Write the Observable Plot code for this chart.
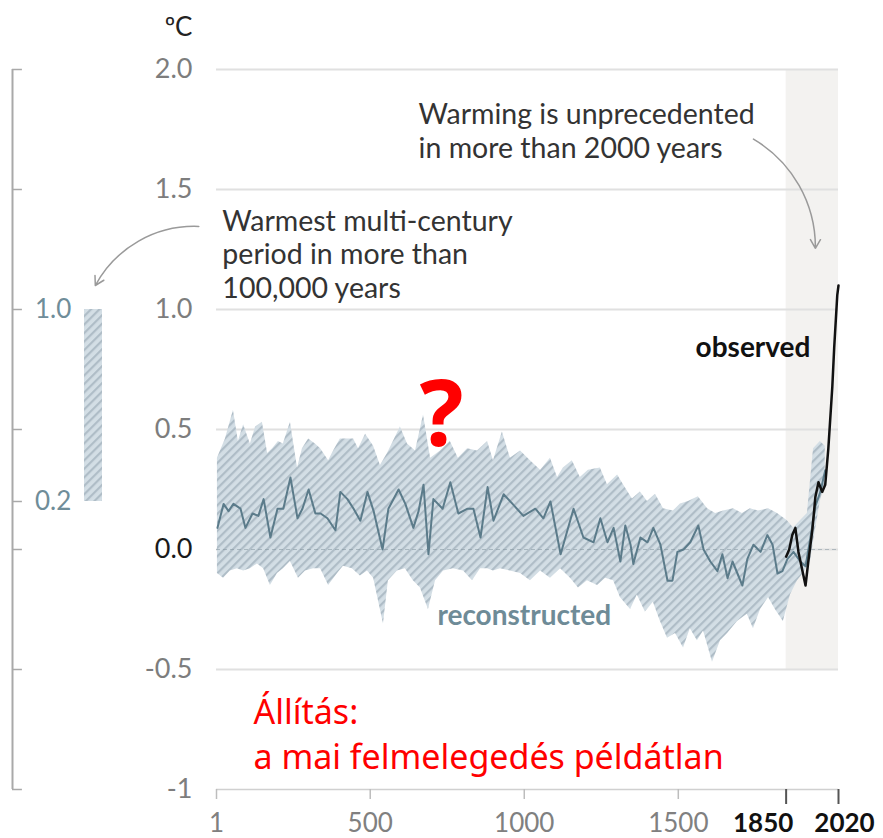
<!DOCTYPE html>
<html>
<head>
<meta charset="utf-8">
<script src="https://cdn.jsdelivr.net/npm/d3@7"></script>
<script src="https://cdn.jsdelivr.net/npm/@observablehq/plot@0.6"></script>
<style>
  body { margin: 0; background: #fff; }
  #wrap { position: relative; width: 883px; height: 838px; overflow: hidden; }
  #wrap svg { position: absolute; left: 0; top: 0; max-width: none; }
</style>
</head>
<body>
<div id="wrap"></div>
<script>
// ---------- data ----------
// reconstructed (median) global surface temperature, °C relative to 1850–1900
const reconYears = [4,24,40,56,79,95,118,137,154,176,199,218,241,264,280,300,322,339,361,387,403,426,446,468,491,511,540,559,592,614,640,657,673,689,705,735,760,786,816,835,858,881,900,933,962,997,1036,1062,1085,1118,1160,1192,1225,1247,1270,1290,1312,1328,1345,1354,1377,1400,1419,1442,1465,1481,1497,1517,1539,1565,1582,1604,1627,1643,1660,1676,1692,1708,1724,1744,1767,1789,1806,1822,1838,1854,1874,1896,1913,1929,1945,1961,1977];
const reconTemp = [0.09,0.19,0.16,0.19,0.17,0.09,0.15,0.14,0.21,0.05,0.17,0.17,0.30,0.13,0.17,0.25,0.15,0.15,0.13,0.08,0.24,0.21,0.17,0.12,0.24,0.16,0.00,0.17,0.25,0.19,0.09,0.16,0.27,-0.02,0.21,0.17,0.28,0.15,0.17,0.17,0.05,0.26,0.12,0.23,0.19,0.14,0.17,0.13,0.20,-0.02,0.17,0.05,0.03,0.13,0.03,0.09,-0.05,0.10,0.02,-0.06,0.05,0.03,0.09,0.02,-0.13,-0.13,-0.01,0.00,0.03,0.10,0.00,-0.05,-0.09,-0.02,-0.12,-0.05,-0.10,-0.15,-0.04,0.02,-0.01,0.06,0.02,-0.10,-0.09,-0.04,-0.01,-0.05,-0.07,0.05,0.18,0.24,0.33];

// very likely range of the reconstruction: upper edge
const upperYears = [4,30,56,72,89,111,128,150,167,183,202,218,241,264,280,300,322,339,365,381,403,426,446,462,485,511,533,556,598,621,647,673,696,728,760,786,816,848,881,900,929,955,988,1020,1053,1085,1108,1127,1156,1182,1208,1247,1270,1303,1322,1351,1377,1400,1426,1452,1484,1507,1533,1565,1595,1621,1647,1679,1708,1734,1760,1793,1822,1854,1874,1896,1919,1939,1961,1977];
const upperTemp = [0.38,0.46,0.58,0.45,0.52,0.44,0.51,0.53,0.40,0.42,0.45,0.44,0.53,0.34,0.42,0.46,0.44,0.42,0.37,0.41,0.46,0.46,0.46,0.42,0.48,0.43,0.35,0.40,0.51,0.44,0.41,0.56,0.38,0.41,0.45,0.38,0.42,0.41,0.45,0.37,0.49,0.38,0.41,0.37,0.33,0.38,0.30,0.34,0.37,0.30,0.33,0.34,0.27,0.31,0.27,0.21,0.24,0.20,0.23,0.17,0.16,0.19,0.20,0.22,0.17,0.15,0.16,0.17,0.15,0.17,0.16,0.17,0.15,0.12,0.09,0.12,0.15,0.42,0.45,0.43];

// lower edge
const lowerYears = [4,24,46,69,89,111,134,154,176,199,218,241,267,290,316,339,365,394,413,442,468,491,511,543,559,588,614,640,663,689,712,738,770,803,832,858,881,900,923,955,988,1020,1053,1085,1118,1150,1176,1205,1238,1264,1290,1312,1345,1367,1393,1419,1442,1465,1491,1517,1539,1562,1582,1611,1637,1660,1692,1724,1744,1767,1793,1815,1841,1864,1887,1906,1929,1945,1961,1977];
const lowerTemp = [-0.10,-0.12,-0.09,-0.08,-0.09,-0.08,-0.06,-0.08,-0.15,-0.10,-0.08,-0.05,-0.12,-0.09,-0.08,-0.08,-0.15,-0.10,-0.07,-0.08,-0.11,-0.09,-0.12,-0.31,-0.13,-0.09,-0.08,-0.13,-0.16,-0.25,-0.13,-0.09,-0.08,-0.09,-0.13,-0.08,-0.08,-0.09,-0.08,-0.09,-0.10,-0.13,-0.09,-0.12,-0.08,-0.12,-0.16,-0.13,-0.15,-0.12,-0.13,-0.20,-0.25,-0.19,-0.26,-0.22,-0.30,-0.37,-0.35,-0.41,-0.33,-0.38,-0.34,-0.47,-0.38,-0.35,-0.30,-0.27,-0.33,-0.25,-0.20,-0.25,-0.30,-0.19,-0.13,-0.10,-0.05,0.08,0.20,0.28];

// observed
const obsYears = [1850,1860,1870,1880,1890,1903,1913,1922,1935,1945,1955,1967,1977,1987,2000,2006,2016,2020];
const obsTemp = [-0.03,0.00,0.06,0.09,-0.01,-0.09,-0.15,-0.05,0.08,0.22,0.28,0.24,0.27,0.42,0.68,0.84,1.06,1.10];

// axes
const yTicks = [2, 1.5, 1, 0.5, 0, -0.5, -1];
const yTickLabels = ["2.0", "1.5", "1.0", "0.5", "0.0", "-0.5", "-1"];
const gridLevels = [2, 1.5, 1, 0.5, -0.5];
const xTicks = [1, 500, 1000, 1500, 1850, 2020];
const xTickLabels = ["1", "500", "1000", "1500", "1850", "2020"];
const xTicksBold = [1850, 2020];
const shadedPeriod = [1850, 2020];

// left panel
const leftTicks = [2, 1.5, 1, 0.5, 0.2, 0, -0.5, -1];
const leftLabels = [1.0, 0.2];
const warmestRange = [0.2, 1.0];

// texts
const unit = "ºC";
const noteWarming = "Warming is unprecedented\nin more than 2000 years";
const noteWarmest = "Warmest multi-century\nperiod in more than\n100,000 years";
const labelObserved = "observed";
const labelRecon = "reconstructed";
const claim = "Állítás:\na mai felmelegedés példátlan";
const question = "?";

// ---------- build ----------
const W = 883, H = 838, MT = 69, MB = 49;
const reconRows = reconYears.map((year, i) => ({year, t: reconTemp[i]}));
const bandRows = lowerYears.map((ly, i) => ({ly, lt: lowerTemp[i], uy: upperYears[i], ut: upperTemp[i]}));
const obsRows = obsYears.map((year, i) => ({year, t: obsTemp[i]}));
const yRows = yTicks.map((v, i) => ({v, label: yTickLabels[i]}));
const xRows = xTicks.map((v, i) => ({v, label: xTickLabels[i], bold: xTicksBold.includes(v)}));
const yMin = d3.min(yTicks), yMax = d3.max(yTicks);
const xMin = d3.min(xTicks), xMax = d3.max(xTicks);
const annotFont = 28.5;

const main = Plot.plot({
  width: W, height: H,
  marginLeft: 216, marginRight: 45, marginTop: MT, marginBottom: MB,
  x: {domain: [xMin, xMax], axis: null},
  y: {domain: [yMin, yMax], axis: null},
  style: {fontFamily: "Lato, sans-serif", background: "white", overflow: "visible"},
  marks: [
    Plot.rect([shadedPeriod], {x1: d => d[0], x2: d => d[1], y1: d3.min(gridLevels), y2: yMax, fill: "#f3f2f0"}),
    Plot.ruleY(gridLevels.concat([0]), {stroke: "#e0e0e0", strokeWidth: 2}),
    Plot.area(bandRows, {x1: "ly", y1: "lt", x2: "uy", y2: "ut", fill: "url(#hatchMain)"}),
    Plot.ruleY([0], {stroke: "#7e8f99", strokeOpacity: 0.5, strokeWidth: 1.2, strokeDasharray: "4,3"}),
    Plot.line(reconRows, {x: "year", y: "t", stroke: "#5b7b8a", strokeWidth: 2}),
    Plot.line(obsRows, {x: "year", y: "t", stroke: "#111", strokeWidth: 2.5}),
    // x axis
    Plot.ruleY([yMin], {stroke: "#d0d0d0", strokeWidth: 1.5}),
    Plot.ruleX(xRows.filter(d => !d.bold), {x: "v", y1: yMin, y2: yMin, insetTop: 0, insetBottom: -10, stroke: "#bdbdbd", strokeWidth: 1.5}),
    Plot.ruleX(xRows.filter(d => d.bold), {x: "v", y1: yMin, y2: yMin, insetTop: 0, insetBottom: -15, stroke: "#555", strokeWidth: 2}),
    Plot.text(xRows.filter(d => !d.bold), {x: "v", y: yMin, text: "label", dy: 34, fontSize: 26, fill: "#808080"}),
    Plot.text(xRows.filter(d => d.v === 1850), {x: "v", y: yMin, text: "label", dy: 34, dx: -23, fontSize: 26, fontWeight: "bold", fill: "#111"}),
    Plot.text(xRows.filter(d => d.v === 2020), {x: "v", y: yMin, text: "label", dy: 34, dx: 6, fontSize: 26, fontWeight: "bold", fill: "#111"}),
    // y axis labels
    Plot.text(yRows.filter(d => d.v !== 0), {x: xMin, y: "v", text: "label", textAnchor: "end", dx: -24, fontSize: 27, fill: "#7d7d7d"}),
    Plot.text(yRows.filter(d => d.v === 0), {x: xMin, y: "v", text: "label", textAnchor: "end", dx: -24, fontSize: 27, fill: "#1a1a1a"}),
    Plot.text([unit], {frameAnchor: "top-left", text: d => d, textAnchor: "end", lineAnchor: "middle", dx: -24, dy: -42, fontSize: 26, fill: "#222"}),
    // annotations
    Plot.text([noteWarming], {x: 657, y: 1.746, text: d => d, textAnchor: "start", lineAnchor: "middle", lineHeight: 34 / annotFont, fontSize: annotFont, fill: "#333"}),
    Plot.arrow([{}], {x1: 1744, y1: 1.71, x2: 1945, y2: 1.255, bend: 30, stroke: "#9a9a9a", strokeWidth: 1.5, headLength: 10}),
    Plot.text([noteWarmest], {x: 20, y: 1.233, text: d => d, textAnchor: "start", lineAnchor: "middle", lineHeight: 33.5 / annotFont, fontSize: annotFont, fill: "#333"}),
    Plot.text([labelObserved], {x: 1929, y: 0.838, text: d => d, textAnchor: "end", fontSize: 28, fontWeight: "bold", fill: "#111"}),
    Plot.text([labelRecon], {x: 718, y: -0.279, text: d => d, textAnchor: "start", fontSize: 28, fontWeight: "bold", fill: "#6e8b97"}),
    Plot.text([question], {x: 731, y: 0.554, text: d => d, fontSize: 92, fontWeight: "bold", fontFamily: "Noto Sans", fill: "#ff0000"}),
    Plot.text([claim], {x: 121, y: -0.762, text: d => d, textAnchor: "start", lineAnchor: "middle", lineHeight: 1.3, fontSize: 34, fontFamily: "Noto Sans", fill: "#ff0000"})
  ]
});

const left = Plot.plot({
  width: 216, height: H,
  marginLeft: 12, marginRight: 114, marginTop: MT, marginBottom: MB,
  x: {domain: [0, 1], axis: null},
  y: {domain: [yMin, yMax], axis: null},
  style: {fontFamily: "Lato, sans-serif", background: "transparent", overflow: "visible"},
  marks: [
    Plot.ruleX([0], {y1: yMin, y2: yMax, stroke: "#a9a9a9", strokeWidth: 2}),
    Plot.ruleY(leftTicks, {x1: 0, x2: 0.11, stroke: "#a9a9a9", strokeWidth: 1.5}),
    Plot.text(leftLabels, {x: 0.25, y: d => d, text: d => d.toFixed(1), textAnchor: "start", fontSize: 26, fill: "#6f8d99"}),
    Plot.rect([warmestRange], {x1: 0.8, x2: 1, y1: d => d[0], y2: d => d[1], fill: "url(#hatchLeft)"}),
    Plot.arrow([{}], {x1: 2.07, y1: 1.346, x2: 0.92, y2: 1.1, bend: -32, stroke: "#9a9a9a", strokeWidth: 1.5, headLength: 10})
  ]
});

function addHatch(svg, id) {
  const p = d3.select(svg).insert("defs", ":first-child")
    .append("pattern").attr("id", id)
    .attr("width", 6).attr("height", 6)
    .attr("patternUnits", "userSpaceOnUse")
    .attr("patternTransform", "rotate(45)");
  p.append("rect").attr("width", 6).attr("height", 6).attr("fill", "#d3dee5");
  p.append("line").attr("x1", 1).attr("y1", 0).attr("x2", 1).attr("y2", 6)
    .attr("stroke", "#afbdc7").attr("stroke-width", 2.4);
}
addHatch(main, "hatchMain");
addHatch(left, "hatchLeft");

const wrap = document.getElementById("wrap");
wrap.appendChild(main);
wrap.appendChild(left);
</script>
</body>
</html>
